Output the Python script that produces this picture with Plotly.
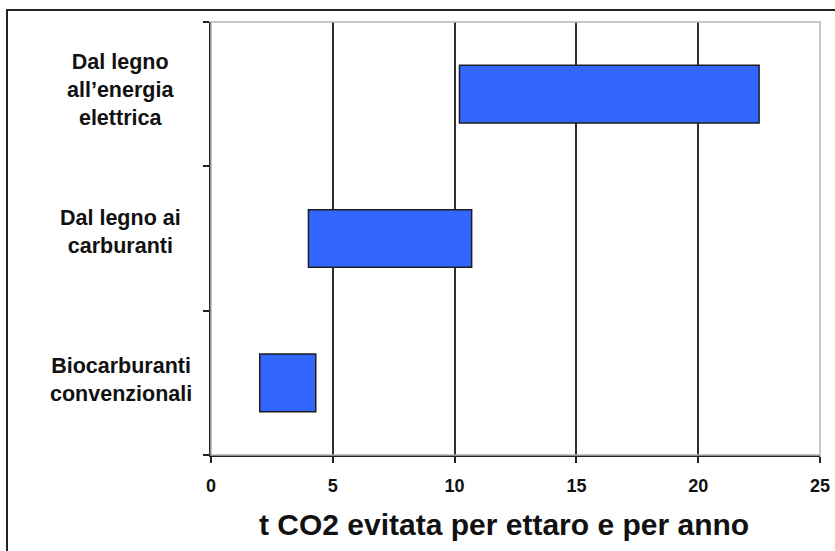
import plotly.graph_objects as go

# Range of CO2 avoided (t per hectare per year) for each pathway
categories = [
    "Dal legno<br>all\u2019energia<br>elettrica",
    "Dal legno ai<br>carburanti",
    "Biocarburanti<br>convenzionali",
]
range_min = [10.2, 4.0, 2.0]
range_max = [22.5, 10.7, 4.3]
x_ticks = [0, 5, 10, 15, 20, 25]
x_title = "t CO2 evitata per ettaro e per anno"

W, H = 835, 551
L, R, T, B = 211, 15, 22, 96
plot_w = W - L - R
plot_h = H - T - B


def px_x(p):
    return (p - L) / plot_w


def px_y(p):
    return (H - B - p) / plot_h


FONT = "Liberation Sans, Arial, sans-serif"

fig = go.Figure()
fig.add_trace(
    go.Bar(
        y=categories,
        x=[hi - lo for lo, hi in zip(range_min, range_max)],
        base=range_min,
        orientation="h",
        width=0.4,
        marker=dict(color="#3366ff", line=dict(color="#1e1e1e", width=1.5)),
        showlegend=False,
    )
)

# Category labels, centred in the left margin
label_shift = [4, 7, 3]
for cat, dy in zip(categories, label_shift):
    fig.add_annotation(
        x=px_x(121), xref="paper", y=cat, yref="y",
        text=cat, showarrow=False, xanchor="center", yanchor="middle",
        align="center", yshift=dy,
        font=dict(family=FONT, size=21.5, color="#111111", weight="bold"),
    )

# Axis title
fig.add_annotation(
    x=px_x(504), xref="paper", y=px_y(524), yref="paper",
    text="<b>" + x_title + "</b>", showarrow=False,
    xanchor="center", yanchor="middle",
    font=dict(family=FONT, size=30, color="#111111"),
)

# Light frame on the top and right of the plotting area
fig.add_shape(
    type="rect", xref="x domain", yref="y domain", x0=0, x1=1, y0=0, y1=1,
    line=dict(color="#b4b4b4", width=1.5), layer="above",
)
# Outer page border
fig.add_shape(
    type="rect", xref="paper", yref="paper",
    x0=px_x(7), x1=px_x(900), y0=px_y(620), y1=px_y(10),
    line=dict(color="#222222", width=2), layer="above",
)

fig.update_xaxes(
    range=[0, 25],
    tickvals=x_ticks,
    ticks="outside", ticklen=6, tickwidth=1.5, tickcolor="#222222",
    ticklabelstandoff=8,
    showgrid=True, gridcolor="#2e2e2e", gridwidth=1.5,
    showline=True, linecolor="#222222", linewidth=1.5,
    zeroline=False,
    automargin=False,
    tickfont=dict(family=FONT, size=18, color="#111111", weight="bold"),
    fixedrange=True,
)
fig.update_yaxes(
    categoryorder="array",
    categoryarray=categories[::-1],
    tickson="boundaries",
    ticks="outside", ticklen=6, tickwidth=1.5, tickcolor="#222222",
    showticklabels=False,
    showgrid=False,
    showline=True, linecolor="#222222", linewidth=1.5,
    zeroline=False,
    automargin=False,
    fixedrange=True,
)

fig.update_layout(
    width=W, height=H,
    margin=dict(l=L, r=R, t=T, b=B, pad=0, autoexpand=False),
    paper_bgcolor="white",
    plot_bgcolor="white",
    bargap=0.6,
)

fig.write_html("out.html", config={"displayModeBar": False})
